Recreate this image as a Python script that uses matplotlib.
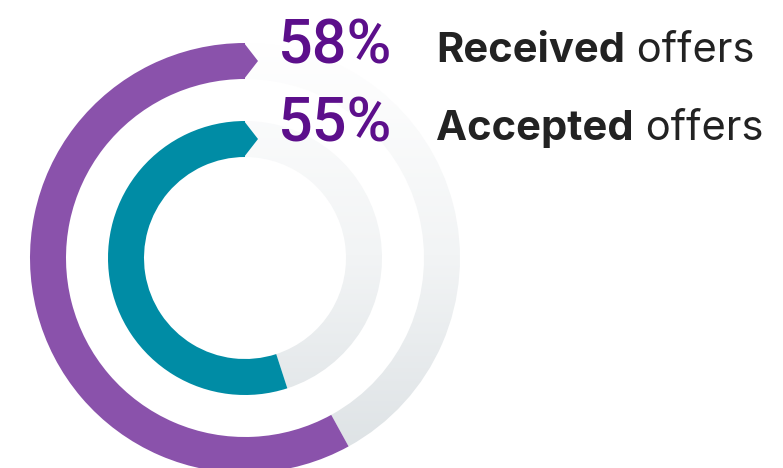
import numpy as np
import matplotlib
matplotlib.use("Agg")
import matplotlib.pyplot as plt
from matplotlib.patches import Wedge, Polygon
from matplotlib.colors import LinearSegmentedColormap

# data
labels_bold = ["Received", "Accepted"]
labels_rest = [" offers", " offers"]
shares = [58, 55]
ring_colors = ["#8a52ab", "#008ca5"]

# geometry in pixels
cx, cy = 245, 258
radii = [215, 137]
width = 36

fig = plt.figure(figsize=(7.83, 4.68), dpi=100)
ax = fig.add_axes([0, 0, 1, 1])
ax.set_xlim(0, 783)
ax.set_ylim(468, 0)
ax.set_aspect("equal")
ax.axis("off")

grey = LinearSegmentedColormap.from_list("g", ["#ffffff", "#f2f4f5", "#dce1e4"])
grad = np.linspace(0, 1, 256).reshape(-1, 1)

for r, pct, col in zip(radii, shares, ring_colors):
    # y axis is inverted, so angles run clockwise on screen; counterclockwise from the top
    start = -90
    end = start - pct * 3.6
    # rest of the ring, with a vertical grey gradient
    bg = Wedge((cx, cy), r, -90, end + 360, width=width, facecolor="none", edgecolor="none")
    ax.add_patch(bg)
    im = ax.imshow(grad, cmap=grey, aspect="auto", extent=(0, 783, 470, 40), zorder=1)
    im.set_clip_path(bg)
    # value arc
    ax.add_patch(Wedge((cx, cy), r, end, start, width=width, facecolor=col,
                       edgecolor="none", zorder=2))
    # arrow tip at the top
    ax.add_patch(Polygon([(cx - 1, cy - r), (cx + 13, cy - r + width / 2),
                          (cx - 1, cy - r + width)], closed=True,
                         facecolor=col, edgecolor="none", zorder=2))

ax.set_xlim(0, 783)
ax.set_ylim(468, 0)

ys = [64, 142]
for y, pct, b, rest in zip(ys, shares, labels_bold, labels_rest):
    ax.text(392, y, f"{pct}%", ha="right", va="baseline", fontsize=44,
            family="Roboto", fontweight="medium", color="#5c0f8b", zorder=3)
    t = ax.text(436, y - 2, b, ha="left", va="baseline", fontsize=30,
                family="Inter", fontweight="bold", color="#222222", zorder=3)
    fig.canvas.draw()
    bb = t.get_window_extent()
    x1 = ax.transData.inverted().transform((bb.x1, bb.y0))[0]
    ax.text(x1, y - 2, rest, ha="left", va="baseline", fontsize=30,
            family="Inter", color="#222222", zorder=3)

fig.savefig("out.png", dpi=100, facecolor="white")
